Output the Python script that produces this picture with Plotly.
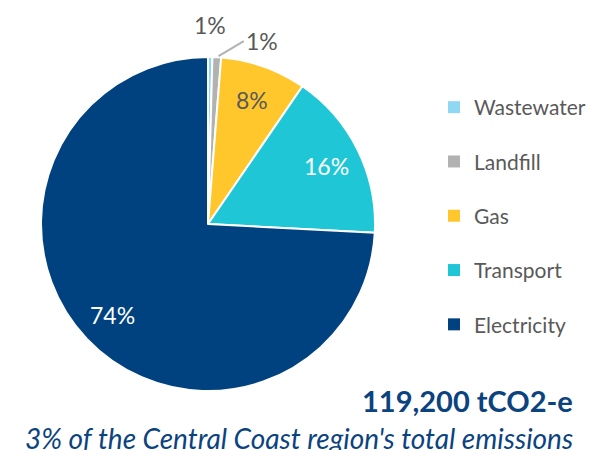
import math
import plotly.graph_objects as go

categories = ["Wastewater", "Landfill", "Gas", "Transport", "Electricity"]
emissions = [500, 1000, 9900, 19400, 88400]  # tCO2-e
pct_labels = ["1%", "1%", "8%", "16%", "74%"]
colors = ["#8ED8F4", "#B2B2B2", "#FFC72C", "#1FC7D6", "#00427F"]
label_colors = ["#595959", "#595959", "#595959", "white", "white"]
total_label = "119,200 tCO2-e"
subtitle = "3% of the Central Coast region's total emissions"

FONT = "Lato, 'Open Sans', sans-serif"
W, H = 590, 442          # page body has an 8px margin inside the 598x450 window
CX, CY, R = 200, 216, 167  # pie centre / radius in figure pixels

fig = go.Figure()
fig.add_trace(go.Pie(
    labels=categories,
    values=emissions,
    textinfo="none",
    sort=False,
    direction="clockwise",
    rotation=0,
    marker=dict(colors=colors, line=dict(color="white", width=2)),
    showlegend=False,
    domain=dict(x=[(CX - R) / W, (CX + R) / W], y=[(H - CY - R) / H, (H - CY + R) / H]),
    hoverinfo="label+value+percent",
))

# legend entries as separate groups for wide spacing
for c, col in zip(categories, colors):
    fig.add_trace(go.Scatter(
        x=[None], y=[None], mode="markers", name=c,
        legendgroup=c,
        marker=dict(symbol="square", size=9, color=col),
    ))

# labels positioned from slice mid-angles
total = sum(emissions)
cum = 0
mids = []
for v in emissions:
    mids.append((cum + v / 2) / total * 2 * math.pi)
    cum += v

def px(x, y):
    return x / W, 1 - y / H

annotations = []
for i in range(2, len(categories)):
    a = mids[i]
    r = 0.79 * R
    lx, ly = px(CX + r * math.sin(a), CY - r * math.cos(a))
    annotations.append(dict(text=pct_labels[i], x=lx, y=ly, xref="paper", yref="paper",
                            xanchor="center", yanchor="middle", showarrow=False,
                            font=dict(family=FONT, size=23, color=label_colors[i])))

# Wastewater label: above its slice
a = mids[0]
lx, ly = px(CX + (R + 32) * math.sin(a) - 1, CY - (R + 32) * math.cos(a))
annotations.append(dict(text=pct_labels[0], x=lx, y=ly, xref="paper", yref="paper",
                        xanchor="center", yanchor="middle", showarrow=False,
                        font=dict(family=FONT, size=23, color="#595959")))
# Landfill label with leader line
a = mids[1]
ex, ey = CX + R * math.sin(a), CY - R * math.cos(a)
tx, ty = ex + 27, ey - 16
x0, y0 = px(ex, ey)
annotations.append(dict(text=pct_labels[1], x=x0, y=y0, xref="paper", yref="paper",
                        ax=tx - ex, ay=ty - ey, axref="pixel", ayref="pixel",
                        showarrow=True, arrowhead=0, arrowwidth=2, arrowcolor="#B2B2B2",
                        standoff=2, xanchor="left", yanchor="middle",
                        font=dict(family=FONT, size=23, color="#595959")))

annotations += [
    dict(text="<b>" + total_label + "</b>", x=567 / W, y=1 - 392 / H,
         xref="paper", yref="paper", xanchor="right", yanchor="middle",
         showarrow=False, font=dict(family=FONT, size=29, color="#0B437F")),
    dict(text="<i>" + subtitle + "</i>", x=567 / W, y=1 - 430 / H,
         xref="paper", yref="paper", xanchor="right", yanchor="middle",
         showarrow=False, font=dict(family=FONT, size=28, color="#0B437F")),
]

fig.update_layout(
    width=W, height=H,
    margin=dict(l=0, r=0, t=0, b=0),
    paper_bgcolor="white", plot_bgcolor="white",
    font=dict(family=FONT, color="#595959"),
    xaxis=dict(visible=False), yaxis=dict(visible=False),
    legend=dict(x=426 / W, y=1 - 79 / H, xanchor="left", yanchor="top",
                font=dict(size=21, color="#595959"),
                tracegroupgap=24, itemsizing="constant",
                bgcolor="rgba(0,0,0,0)"),
    annotations=annotations,
)

fig.write_html("out.html")
